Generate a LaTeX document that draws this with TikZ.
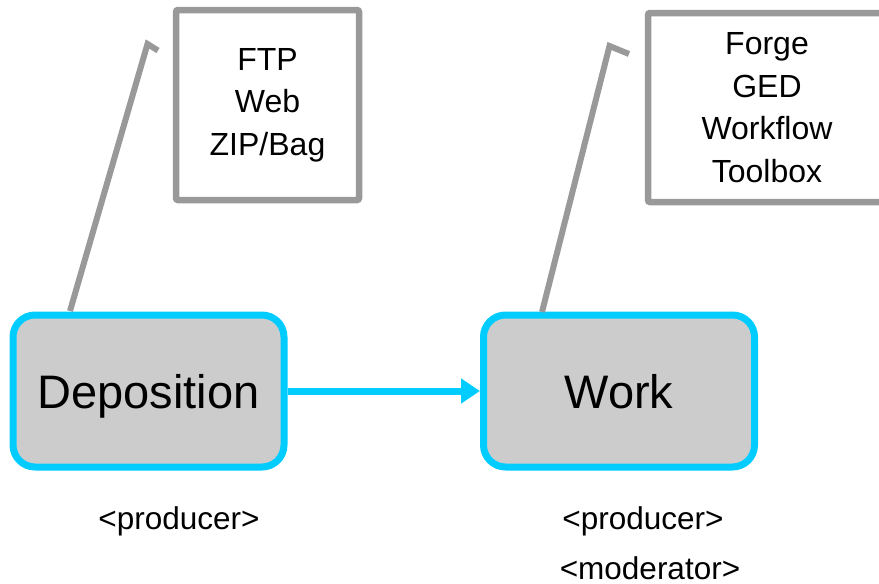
\documentclass[tikz,border=0pt]{standalone}
\usepackage{fontspec}
\setmainfont{Liberation Sans}
\usetikzlibrary{arrows.meta}
\definecolor{stagecyan}{HTML}{00CCFF}
\definecolor{stagefill}{HTML}{CCCCCC}
\definecolor{noteline}{HTML}{999999}
\begin{document}
\begin{tikzpicture}[x=1pt,y=-1pt,
  stagebox/.style={draw=stagecyan, fill=stagefill, line width=7pt, rounded corners=22pt,
    minimum width=271pt, minimum height=152pt, inner sep=0pt,
    text height=34pt, text depth=0pt,
    font=\fontsize{47}{52}\selectfont},
  notebox/.style={draw=noteline, line width=6.5pt, rounded corners=2pt, inner sep=0pt,
    align=center, font=\fontsize{32}{42.5}\selectfont},
  noteline/.style={draw=noteline, line width=6pt},
  rolelabel/.style={anchor=base, font=\fontsize{31.5}{40}\selectfont, inner sep=0pt},
  flow/.style={draw=stagecyan, line width=7pt, -{Triangle[length=19pt,width=24pt]}}
]
\clip (0,0) rectangle (879,584);
\node[stagebox] (dep) at (148.5,391) {Deposition};
\node[stagebox] (work) at (619,391) {Work};
\node[notebox, minimum width=183pt, minimum height=190pt] (n1) at (267.5,105) {FTP\\Web\\ZIP/Bag};
\node[notebox, minimum width=238pt, minimum height=189pt] (n2) at (767,107.5) {Forge\\GED\\Workflow\\Toolbox};
\node[rolelabel] (r1) at (179,529) {<producer>};
\node[rolelabel] (r2) at (643,529) {<producer>};
\node[rolelabel] (r3) at (650,579) {<moderator>};
\draw[flow] (dep.east) -- (work.west);
\coordinate (a1) at (70,311);
\coordinate (b1) at (147.5,44);
\coordinate (c1) at (158,50.5);
\coordinate (a2) at (542,312);
\coordinate (b2) at (609.5,46);
\coordinate (c2) at (629,54);
\draw[noteline] (a1) -- (b1) -- (c1);
\draw[noteline] (a2) -- (b2) -- (c2);
\end{tikzpicture}
\end{document}
